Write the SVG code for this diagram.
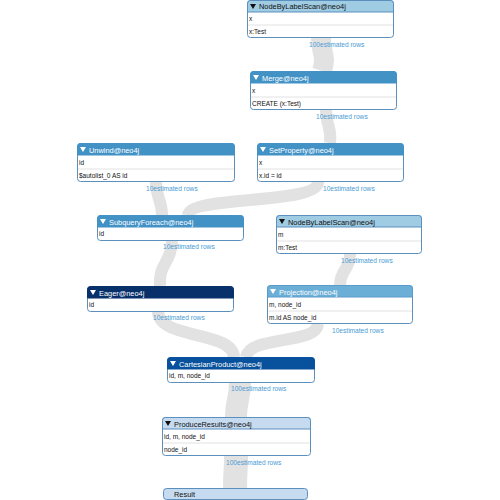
<svg xmlns="http://www.w3.org/2000/svg" width="500" height="500" viewBox="0 0 500 500">
<style>
.band{fill:none;stroke:#e2e2e2;stroke-linecap:butt}
.box{fill:#fff;stroke:#5a8fbe;stroke-width:1}
.div{stroke:#e2e2e2;stroke-width:1}
.ht{font-family:"Liberation Sans",Arial,sans-serif;font-size:7.4px;fill:#fff}
.htd{font-family:"Liberation Sans",Arial,sans-serif;font-size:7.4px;fill:#111}
.bt{font-family:"Liberation Sans",Arial,sans-serif;font-size:6.5px;fill:#111}
.est{font-family:"Liberation Sans",Arial,sans-serif;font-size:6.6px;fill:#4a9bd4}
.tri{fill:#fff}
.trid{fill:#111}
</style>
<rect width="500" height="500" fill="#fff"/>
<g id="connectors">
<path class="band" stroke-width="20" d="M 321 38 C 321 55, 327 55, 322 71"/>
<path class="band" stroke-width="12" d="M 326 110 C 326 127, 332 127, 330 143"/>
<path class="band" stroke-width="12" d="M 156 182 C 156 198, 162 200, 162 215"/>
<path class="band" stroke-width="12" d="M 318 182 C 318 205, 190 195, 188 215"/>
<path class="band" stroke-width="12" d="M 172 240 C 172 262, 158 264, 160 286"/>
<path class="band" stroke-width="12" d="M 350 254 C 350 270, 340 270, 340 285"/>
<path class="band" stroke-width="12" d="M 158 311 C 158 340, 232 330, 234 357"/>
<path class="band" stroke-width="12" d="M 318 324 C 316 345, 250 335, 246 357"/>
<path class="band" stroke-width="22" d="M 240 382 C 240 400, 236 400, 236 417"/>
<path class="band" stroke-width="24" d="M 236 456 C 236 472, 235 472, 235 489"/>
</g>

<g id="n1">
<rect class="box" x="247.5" y="0.5" width="146" height="37" rx="3"/>
<path d="M247.5 12 V3.5 a3 3 0 0 1 3 -3 H390.5 a3 3 0 0 1 3 3 V12 Z" fill="#9fcbe3" stroke="#5a8fbe"/>
<polygon class="trid" points="250,4 256,4 253,9"/>
<text class="htd" x="259" y="9">NodeByLabelScan@neo4j</text>
<text class="bt" x="249" y="21">x</text>
<line class="div" x1="248" y1="25" x2="393" y2="25"/>
<text class="bt" x="249" y="34">x:Test</text>
<text class="est" x="309" y="47">100estimated rows</text>
</g>

<g id="n2">
<rect class="box" x="250.5" y="71.5" width="146" height="38" rx="3"/>
<path d="M250.5 83 V74.5 a3 3 0 0 1 3 -3 H393.5 a3 3 0 0 1 3 3 V83 Z" fill="#4292c6" stroke="#4292c6"/>
<polygon class="tri" points="253,75 259,75 256,80"/>
<text class="ht" x="262" y="80.5">Merge@neo4j</text>
<text class="bt" x="252" y="93">x</text>
<line class="div" x1="251" y1="97" x2="396" y2="97"/>
<text class="bt" x="252" y="106">CREATE (x:Test)</text>
<text class="est" x="316" y="119">10estimated rows</text>
</g>

<g id="n3">
<rect class="box" x="77.5" y="143.5" width="157" height="38" rx="3"/>
<path d="M77.5 155 V146.5 a3 3 0 0 1 3 -3 H231.5 a3 3 0 0 1 3 3 V155 Z" fill="#4292c6" stroke="#4292c6"/>
<polygon class="tri" points="80,147 86,147 83,152"/>
<text class="ht" x="89" y="152.5">Unwind@neo4j</text>
<text class="bt" x="79" y="165">id</text>
<line class="div" x1="78" y1="169" x2="234" y2="169"/>
<text class="bt" x="79" y="178">$autolist_0 AS id</text>
<text class="est" x="146" y="191">10estimated rows</text>
</g>

<g id="n4">
<rect class="box" x="257.5" y="143.5" width="146" height="38" rx="3"/>
<path d="M257.5 155 V146.5 a3 3 0 0 1 3 -3 H400.5 a3 3 0 0 1 3 3 V155 Z" fill="#4292c6" stroke="#4292c6"/>
<polygon class="tri" points="260,147 266,147 263,152"/>
<text class="ht" x="269" y="152.5">SetProperty@neo4j</text>
<text class="bt" x="259" y="165">x</text>
<line class="div" x1="258" y1="169" x2="403" y2="169"/>
<text class="bt" x="259" y="178">x.id = id</text>
<text class="est" x="323" y="191">10estimated rows</text>
</g>

<g id="n5">
<rect class="box" x="97.5" y="215.5" width="146" height="25" rx="3"/>
<path d="M97.5 227 V218.5 a3 3 0 0 1 3 -3 H240.5 a3 3 0 0 1 3 3 V227 Z" fill="#4292c6" stroke="#4292c6"/>
<polygon class="tri" points="100,219 106,219 103,224"/>
<text class="ht" x="109" y="224.5">SubqueryForeach@neo4j</text>
<text class="bt" x="99" y="236">id</text>
<text class="est" x="163" y="249">10estimated rows</text>
</g>

<g id="n6">
<rect class="box" x="276.5" y="215.5" width="145" height="38" rx="3"/>
<path d="M276.5 227 V218.5 a3 3 0 0 1 3 -3 H418.5 a3 3 0 0 1 3 3 V227 Z" fill="#9fcbe3" stroke="#5a8fbe"/>
<polygon class="trid" points="279,219 285,219 282,224"/>
<text class="htd" x="288" y="224.5">NodeByLabelScan@neo4j</text>
<text class="bt" x="278" y="237">m</text>
<line class="div" x1="277" y1="241" x2="421" y2="241"/>
<text class="bt" x="278" y="250">m:Test</text>
<text class="est" x="341" y="263">10estimated rows</text>
</g>

<g id="n7">
<rect class="box" x="87.5" y="286.5" width="146" height="25" rx="3" stroke="#08306b"/>
<path d="M87.5 298 V289.5 a3 3 0 0 1 3 -3 H230.5 a3 3 0 0 1 3 3 V298 Z" fill="#08306b" stroke="#08306b"/>
<polygon class="tri" points="90,290 96,290 93,295"/>
<text class="ht" x="99" y="295.5">Eager@neo4j</text>
<text class="bt" x="89" y="307">id</text>
<text class="est" x="153" y="320">10estimated rows</text>
</g>

<g id="n8">
<rect class="box" x="267.5" y="285.5" width="145" height="38" rx="3"/>
<path d="M267.5 297 V288.5 a3 3 0 0 1 3 -3 H409.5 a3 3 0 0 1 3 3 V297 Z" fill="#6baed6" stroke="#5a9ccc"/>
<polygon class="tri" points="270,289 276,289 273,294"/>
<text class="ht" x="279" y="294.5">Projection@neo4j</text>
<text class="bt" x="269" y="307">m, node_id</text>
<line class="div" x1="268" y1="311" x2="412" y2="311"/>
<text class="bt" x="269" y="320">m.id AS node_id</text>
<text class="est" x="332" y="333">10estimated rows</text>
</g>

<g id="n9">
<rect class="box" x="167.5" y="357.5" width="147" height="25" rx="3" stroke="#08519c"/>
<path d="M167.5 369 V360.5 a3 3 0 0 1 3 -3 H311.5 a3 3 0 0 1 3 3 V369 Z" fill="#08519c" stroke="#08519c"/>
<polygon class="tri" points="170,361 176,361 173,366"/>
<text class="ht" x="179" y="366.5">CartesianProduct@neo4j</text>
<text class="bt" x="169" y="378">id, m, node_id</text>
<text class="est" x="231" y="391">100estimated rows</text>
</g>

<g id="n10">
<rect class="box" x="162.5" y="417.5" width="148" height="38" rx="3"/>
<path d="M162.5 429 V420.5 a3 3 0 0 1 3 -3 H307.5 a3 3 0 0 1 3 3 V429 Z" fill="#c6dbef" stroke="#5a8fbe"/>
<polygon class="trid" points="165,421 171,421 168,426"/>
<text class="htd" x="174" y="426.5">ProduceResults@neo4j</text>
<text class="bt" x="164" y="439">id, m, node_id</text>
<line class="div" x1="163" y1="443" x2="310" y2="443"/>
<text class="bt" x="164" y="452">node_id</text>
<text class="est" x="226" y="465">100estimated rows</text>
</g>

<g id="result">
<rect x="163.5" y="488.5" width="144" height="11" rx="3" fill="#c6dbef" stroke="#5a8fbe"/>
<text class="htd" x="174" y="496.5">Result</text>
</g>
</svg>
